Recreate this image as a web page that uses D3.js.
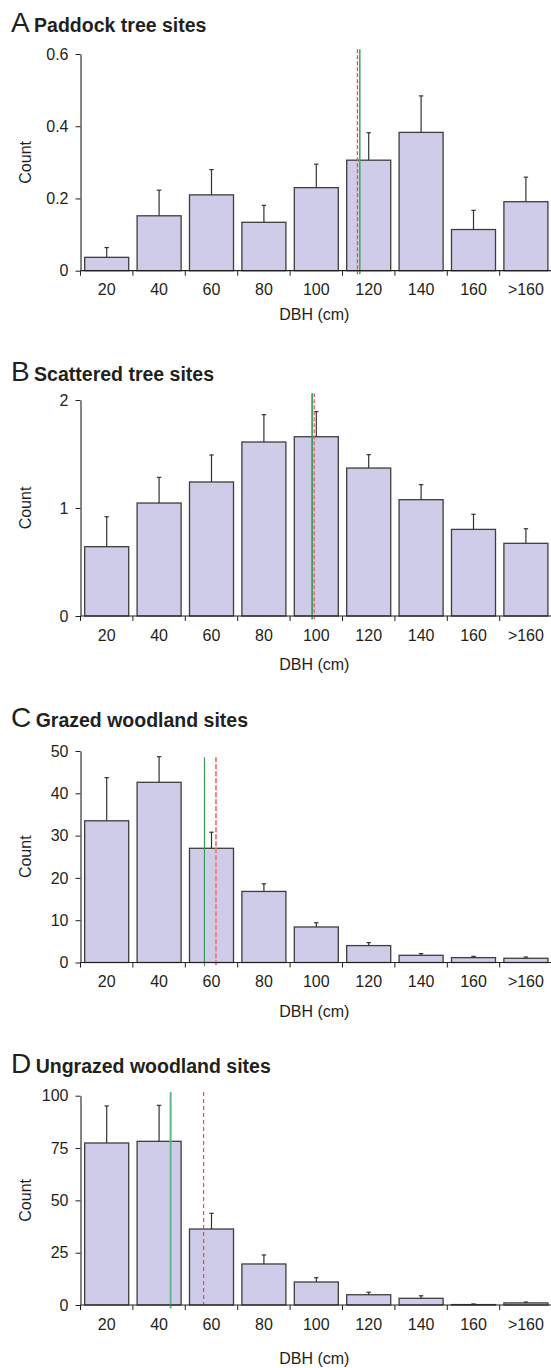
<!DOCTYPE html>
<html>
<head>
<meta charset="utf-8">
<script src="https://cdn.jsdelivr.net/npm/d3@7"></script>
<style>
  html, body { margin: 0; padding: 0; background: #ffffff; }
  svg { display: block; }
  text { font-family: "Liberation Sans", Arial, sans-serif; fill: #231f20; }
</style>
</head>
<body>
<svg id="chart" width="551" height="1368"></svg>
<script>
// ---------------- data ----------------
const categories = ["20", "40", "60", "80", "100", "120", "140", "160", ">160"];
const panelLetters = ["A", "B", "C", "D"];
const panelTitles = ["Paddock tree sites", "Scattered tree sites", "Grazed woodland sites", "Ungrazed woodland sites"];
const xAxisTitle = "DBH (cm)";
const yAxisTitle = "Count";

const countsA = [0.037, 0.152, 0.210, 0.134, 0.230, 0.306, 0.383, 0.114, 0.191];
const seA     = [0.027, 0.071, 0.070, 0.047, 0.065, 0.076, 0.101, 0.053, 0.068];
const countsB = [0.642, 1.046, 1.241, 1.611, 1.660, 1.370, 1.077, 0.802, 0.673];
const seB     = [0.277, 0.238, 0.250, 0.253, 0.232, 0.124, 0.139, 0.140, 0.135];
const countsC = [33.5, 42.6, 27.0, 16.8, 8.4, 4.0, 1.7, 1.15, 1.0];
const seC     = [10.2, 6.05, 3.8, 1.8, 1.0, 0.7, 0.4, 0.3, 0.3];
const countsD = [77.4, 78.2, 36.3, 19.6, 11.0, 4.9, 3.2, 0.2, 1.0];
const seD     = [17.7, 17.2, 7.5, 4.3, 2.0, 1.2, 1.2, 0.3, 0.4];

const yTicksA = [0, 0.2, 0.4, 0.6];
const yTicksB = [0, 1, 2];
const yTicksC = [0, 10, 20, 30, 40, 50];
const yTicksD = [0, 25, 50, 75, 100];

// reference lines on the DBH axis (cm)
const greenLineDBH = [116.6, 98.4, 57.3, 44.4];
const redLineDBH   = [115.7, 99.2, 61.7, 57.0];

// DBH value represented at the centre of the first and last bins
const dbhBinCentres = [20, 180];

// ---------------- layout & styles ----------------
const layout = {
  x0: 80.5, x1: 552.1,
  plotTop:    [54, 400, 751, 1095.7],
  plotBottom: [270.7, 616, 962.5, 1305],
  titleBase:  [32.3, 381, 727, 1073],
  xTitleBase: [320, 670, 1016.5, 1363.5],
  lineTopOffset: [-4.7, -6.7, 6.3, -3.7],
  lineBottomOffset: 3.5,
  tickLen: 5
};
const styles = {
  barFill: "#cecce8",
  barStroke: "#3e3e3e",
  errStroke: "#333333",
  axis: "#231f20",
  green: [
    { color: "#3dab6c", width: 1.6 },
    { color: "#2f9a52", width: 1.6 },
    { color: "#2e9a4c", width: 1.1 },
    { color: "#5db98a", width: 2.0 }
  ],
  red: [
    { color: "#ee4a54", width: 1.3, dash: "4,2" },
    { color: "#f05560", width: 1.3, dash: "4,2" },
    { color: "#f28088", width: 2.0, dash: "5,2" },
    { color: "#ec3c44", width: 1.1, dash: "4,3" }
  ]
};

const panels = [
  { counts: countsA, se: seA, ticks: yTicksA, fmt: d => d === 0 ? "0" : d3.format(".1f")(d) },
  { counts: countsB, se: seB, ticks: yTicksB, fmt: d => String(d) },
  { counts: countsC, se: seC, ticks: yTicksC, fmt: d => String(d) },
  { counts: countsD, se: seD, ticks: yTicksD, fmt: d => String(d) }
];

// ---------------- drawing ----------------
const svg = d3.select("#chart");

const x = d3.scaleBand()
  .domain(categories)
  .range([layout.x0, layout.x1])
  .paddingInner(0.16)
  .paddingOuter(0.08);
const step = x.step();
const xDBH = d3.scaleLinear()
  .domain(dbhBinCentres)
  .range([x(categories[0]) + x.bandwidth() / 2, x(categories[categories.length - 1]) + x.bandwidth() / 2]);

panels.forEach((p, i) => {
  const top = layout.plotTop[i], bottom = layout.plotBottom[i];
  const y = d3.scaleLinear().domain([0, d3.max(p.ticks)]).range([bottom, top]);
  const g = svg.append("g");

  // panel letter + title
  const t = g.append("text").attr("x", 11).attr("y", layout.titleBase[i]);
  t.append("tspan").text(panelLetters[i])
    .attr("font-size", 28).attr("font-weight", 400).style("fill", "#231f20");
  t.append("tspan").text(" " + panelTitles[i])
    .attr("font-size", 19.5).attr("font-weight", 700).attr("dx", -1);

  // bars
  g.selectAll("rect.bar").data(p.counts).join("rect")
    .attr("class", "bar")
    .attr("x", (d, j) => x(categories[j]))
    .attr("width", x.bandwidth())
    .attr("y", d => y(d))
    .attr("height", d => bottom - y(d))
    .attr("fill", styles.barFill)
    .attr("stroke", styles.barStroke)
    .attr("stroke-width", 1.3);

  // error bars
  const eg = g.append("g").attr("stroke", styles.errStroke).attr("stroke-width", 1.2);
  p.counts.forEach((d, j) => {
    const cx = x(categories[j]) + x.bandwidth() / 2;
    eg.append("line").attr("x1", cx).attr("x2", cx)
      .attr("y1", y(d)).attr("y2", y(d + p.se[j]));
    eg.append("line").attr("x1", cx - 2.2).attr("x2", cx + 2.2)
      .attr("y1", y(d + p.se[j])).attr("y2", y(d + p.se[j]));
  });

  // reference lines
  const lt = top + layout.lineTopOffset[i];
  const lb = bottom + layout.lineBottomOffset;
  const gs = styles.green[i], rs = styles.red[i];
  g.append("line")
    .attr("x1", xDBH(redLineDBH[i])).attr("x2", xDBH(redLineDBH[i]))
    .attr("y1", lt).attr("y2", lb)
    .attr("stroke", rs.color).attr("stroke-width", rs.width)
    .attr("stroke-dasharray", rs.dash);
  g.append("line")
    .attr("x1", xDBH(greenLineDBH[i])).attr("x2", xDBH(greenLineDBH[i]))
    .attr("y1", lt).attr("y2", lb)
    .attr("stroke", gs.color).attr("stroke-width", gs.width);

  // y axis
  const yAxis = d3.axisLeft(y).tickValues(p.ticks).tickFormat(p.fmt)
    .tickSize(layout.tickLen).tickPadding(7).tickSizeOuter(0);
  const ya = g.append("g").attr("transform", `translate(${layout.x0},0)`).call(yAxis);
  ya.select(".domain").attr("stroke", styles.axis).attr("stroke-width", 1.1);
  ya.selectAll(".tick line").attr("stroke", styles.axis).attr("stroke-width", 1);
  ya.selectAll(".tick text").attr("font-size", 16).attr("font-family", "Liberation Sans, Arial, sans-serif")
    .style("fill", "#231f20");

  // x axis: baseline + ticks at bin boundaries
  g.append("line").attr("x1", layout.x0).attr("x2", layout.x1)
    .attr("y1", bottom).attr("y2", bottom)
    .attr("stroke", styles.axis).attr("stroke-width", 1.2);
  const edges = d3.range(categories.length + 1).map(k => layout.x0 + k * step);
  g.selectAll("line.xtick").data(edges).join("line")
    .attr("class", "xtick")
    .attr("x1", d => d).attr("x2", d => d)
    .attr("y1", bottom).attr("y2", bottom + layout.tickLen)
    .attr("stroke", styles.axis).attr("stroke-width", 1);
  g.selectAll("text.xlab").data(categories).join("text")
    .attr("class", "xlab")
    .attr("x", d => x(d) + x.bandwidth() / 2)
    .attr("y", bottom + 24.5)
    .attr("text-anchor", "middle")
    .attr("font-size", 16)
    .text(d => d);

  // axis titles
  g.append("text")
    .attr("x", (layout.x0 + layout.x1) / 2 - 2)
    .attr("y", layout.xTitleBase[i])
    .attr("text-anchor", "middle")
    .attr("font-size", 16)
    .text(xAxisTitle);
  g.append("text")
    .attr("transform", `translate(30.5,${(top + bottom) / 2}) rotate(-90)`)
    .attr("text-anchor", "middle")
    .attr("font-size", 16)
    .text(yAxisTitle);
});
</script>
</body>
</html>
